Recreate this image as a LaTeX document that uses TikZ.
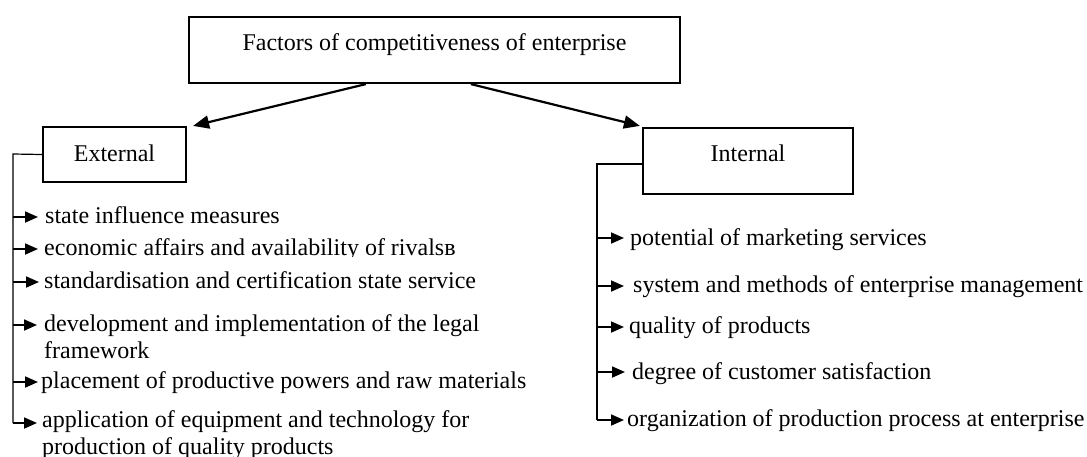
\documentclass[tikz,border=0pt]{standalone}
\usepackage{fontspec}
\setmainfont{Liberation Serif}
\usetikzlibrary{arrows.meta,calc}
\begin{document}
\begin{tikzpicture}[x=1pt,y=-1pt,
  every node/.style={font=\fontsize{24}{27.6}\selectfont, inner sep=0pt},
  frame/.style={draw, line width=2.2pt, rectangle},
  item/.style={anchor=base west, align=left},
  branch/.style={line width=2.2pt, -{Triangle[length=16pt,width=13pt]}},
  spine/.style={line width=1.2pt},
  itemarrow/.style={line width=1.8pt, -{Triangle[length=13pt,width=11pt]}},
]
\useasboundingbox (0,0) rectangle (1087,456);

% boxes
\node[frame, minimum width=491pt, minimum height=66pt, text height=17pt, text depth=17pt]
  (top) at (434.5,50) {Factors of competitiveness of enterprise};
\node[frame, minimum width=143pt, minimum height=55pt, text height=17pt, text depth=4pt]
  (ext) at (114.5,154.5) {External};
\node[frame, minimum width=210pt, minimum height=66pt, text height=17pt, text depth=17pt]
  (int) at (748,161) {Internal};

\draw[branch] ($(top.south west)+(178,0)$) -- ($(ext.north east)+(6,0)$);
\draw[branch] ($(top.south west)+(283,0)$) -- ($(int.north west)+(-2,-1)$);

% external factors (two-line items are placed by the baseline of their last line)
\node[item] (e1) at (45,223) {state influence measures};
\begin{scope}
  \clip (0,230) rectangle (600,256);
  \node[item] (e2) at (44,255) {economic affairs and availability of rivalsв};
\end{scope}
\node[item] (e3) at (44,288) {standardisation and certification state service};
\node[item] (e4) at (44,358.6) {development and implementation of the legal\\framework};
\node[item] (e5) at (41,388) {placement of productive powers and raw materials};
\node[item] (e6) at (42,454.6) {application of equipment and technology for\\production of quality products};

\coordinate (t1) at ($(e1.base west)+(-7,-6)$);
\coordinate (t2) at ($(e2.base west)+(-6,-6)$);
\coordinate (t3) at ($(e3.base west)+(-5,-6)$);
\coordinate (t4) at ($(e4.base west)+(-7,-33.6)$);
\coordinate (t5) at ($(e5.base west)+(-3,-6)$);
\coordinate (t6) at ($(e6.base west)+(-5,-31.6)$);
\coordinate (ls) at (13,154);

\draw[spine] (ext.west) -- (ls) -- (ls |- t6);
\foreach \t in {t1,t2,t3,t4,t5,t6}
  \draw[itemarrow] (ls |- \t) -- (\t);

% internal factors
\node[item] (i1) at (630,245) {potential of marketing services};
\node[item] (i2) at (633,292) {system and methods of enterprise management};
\node[item] (i3) at (629,333) {quality of products};
\node[item] (i4) at (632,379) {degree of customer satisfaction};
\node[item] (i5) at (627,426) {organization of production process at enterprise};

\coordinate (u1) at ($(i1.base west)+(-6,-7)$);
\coordinate (u2) at ($(i2.base west)+(-9,-6)$);
\coordinate (u3) at ($(i3.base west)+(-5,-6)$);
\coordinate (u4) at ($(i4.base west)+(-7,-7)$);
\coordinate (u5) at ($(i5.base west)+(-3,-6)$);
\coordinate (rs) at (597,164);

\draw[spine] (int.west |- rs) -- (rs) -- (rs |- u5);
\foreach \u in {u1,u2,u3,u4,u5}
  \draw[itemarrow] (rs |- \u) -- (\u);
\end{tikzpicture}
\end{document}
